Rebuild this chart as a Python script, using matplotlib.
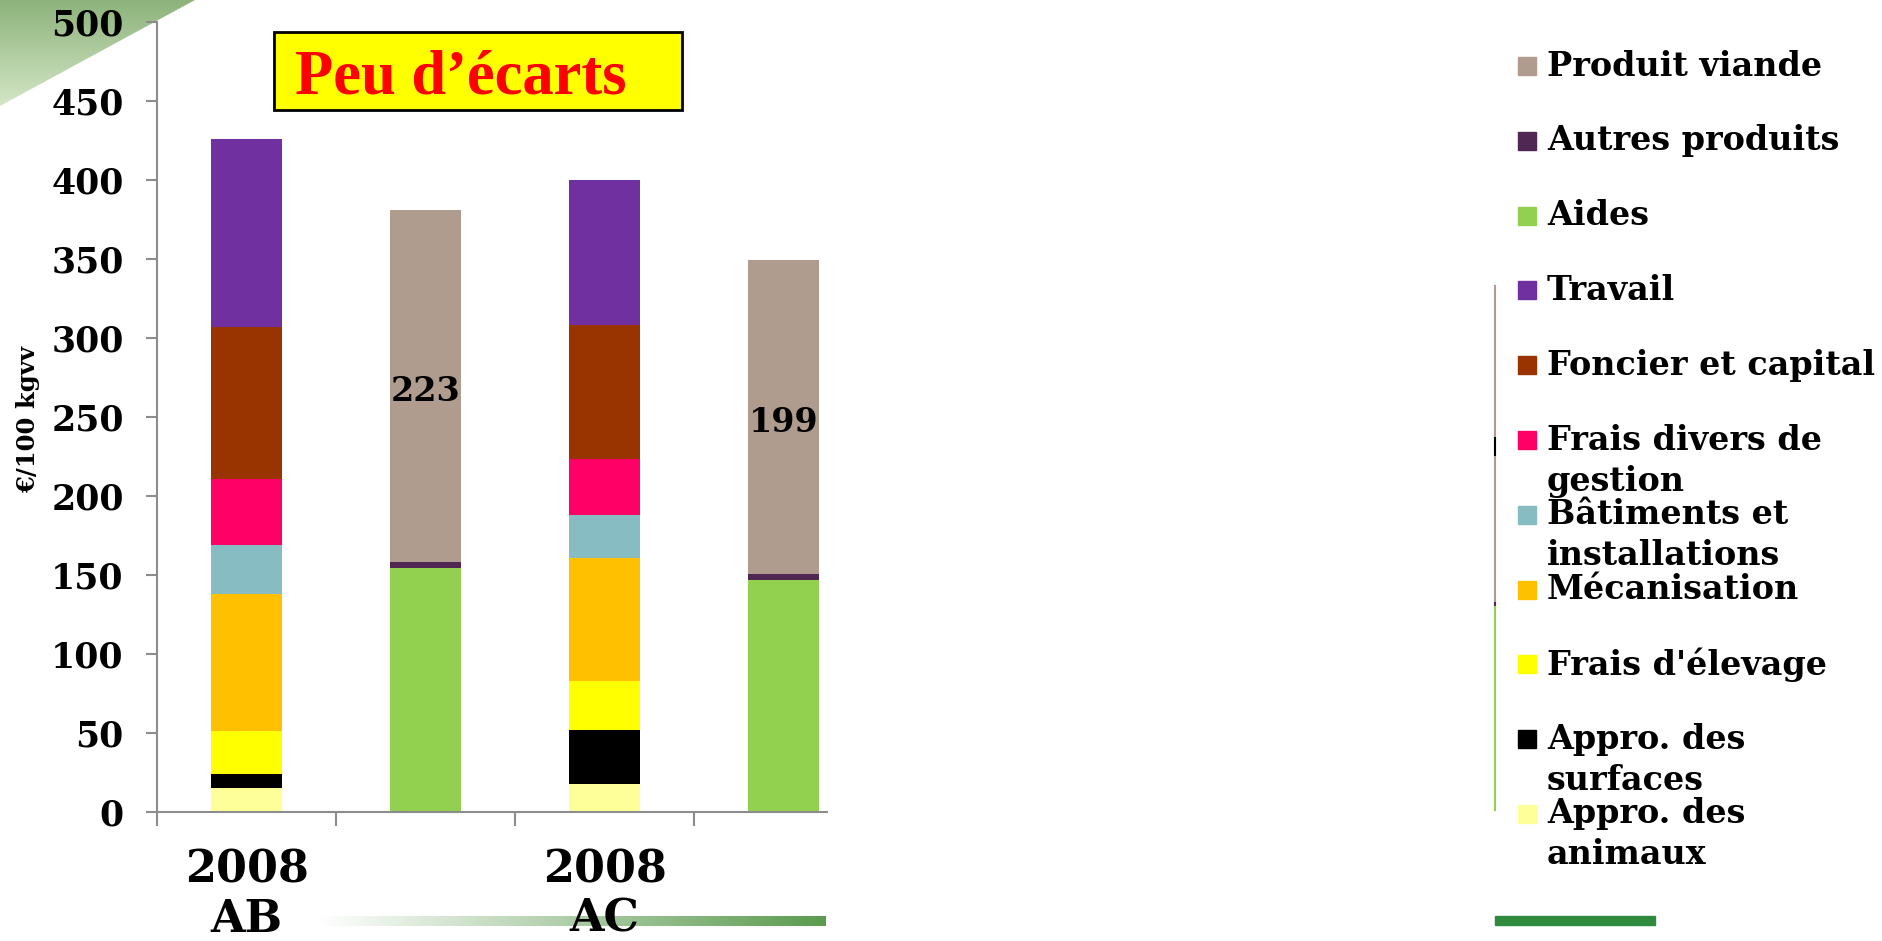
import matplotlib.pyplot as plt
import numpy as np
from matplotlib.patches import Rectangle, Polygon
from matplotlib.colors import LinearSegmentedColormap

# values, in €/100 kgvv
tick_labels = ['2008\nAB', '', '2008\nAC', '']

appro_animaux = [15, 0, 18, 0]
appro_surfaces = [9, 0, 34, 0]
frais_elevage = [27.5, 0, 31, 0]
mecanisation = [86.5, 0, 77.5, 0]
batiments = [31, 0, 27.5, 0]
frais_divers = [41.5, 0, 35.5, 0]
foncier = [96, 0, 84.5, 0]
travail = [119, 0, 91.5, 0]
aides = [0, 154.5, 0, 147]
autres_produits = [0, 3.5, 0, 3.5]
produit_viande = [0, 223, 0, 199]

# stacking order, bottom to top
series = [
    ('Appro. des\nanimaux', appro_animaux, '#FFFF99'),
    ('Appro. des\nsurfaces', appro_surfaces, '#000000'),
    ("Frais d'élevage", frais_elevage, '#FFFF00'),
    ('Mécanisation', mecanisation, '#FFC000'),
    ('Bâtiments et\ninstallations', batiments, '#86BCC2'),
    ('Frais divers de\ngestion', frais_divers, '#FF0066'),
    ('Foncier et capital', foncier, '#993300'),
    ('Travail', travail, '#7030A0'),
    ('Aides', aides, '#92D050'),
    ('Autres produits', autres_produits, '#4F2752'),
    ('Produit viande', produit_viande, '#B09B8F'),
]

SERIF = 'DejaVu Serif'
W, H = 1883, 941
fig = plt.figure(figsize=(W / 100, H / 100), dpi=100)

# decoration layer in pixel coordinates
deco = fig.add_axes([0, 0, 1, 1], zorder=0)
tri = LinearSegmentedColormap.from_list('tri', ['#8DB37B', '#D3E6C6'])
im = deco.imshow(np.linspace(0, 1, 100).reshape(-1, 1), cmap=tri, aspect='auto',
                 extent=(0, 195, 106, 0))
im.set_clip_path(Polygon([(0, 0), (195, 0), (0, 106)], transform=deco.transData))
band = LinearSegmentedColormap.from_list('band', ['#FFFFFF', '#5B9B4F'])
deco.imshow(np.linspace(0, 1, 256).reshape(1, -1), cmap=band, aspect='auto',
            extent=(318, 826, 926, 916))
deco.add_patch(Rectangle((1495, 916), 160, 9, color='#2E8B3E'))
deco.plot([1495, 1495], [286, 603], color='#B09B8F', lw=1.5)
deco.plot([1495, 1495], [438, 455], color='black', lw=1.5)
deco.plot([1495, 1495], [603, 607], color='#4F2752', lw=1.5)
deco.plot([1495, 1495], [607, 810], color='#92D050', lw=1.5)

# title box
deco.add_patch(Rectangle((274, 32), 408, 78, facecolor='#FFFF00', edgecolor='black', lw=2))
deco.text(295, 78, 'Peu d’écarts', color='#FF0000', fontsize=45, fontweight='bold',
          family='Liberation Serif', ha='left', va='center')

# legend, top to bottom
for i, (lab, vals, col) in enumerate(series[::-1]):
    yc = 66 + i * 74.8
    deco.add_patch(Rectangle((1518, yc - 9), 18, 18, color=col))
    for k, line in enumerate(lab.split('\n')):
        deco.text(1547, yc + k * 41, line, fontsize=24, fontweight='bold',
                  family=SERIF, ha='left', va='center')

deco.set_xlim(0, W)
deco.set_ylim(H, 0)
deco.axis('off')

# main chart
ax = fig.add_axes([157 / W, 129 / H, 670 / W, 790.4 / H], zorder=1)
ax.patch.set_alpha(0)
x = np.arange(len(tick_labels))
bottom = np.zeros(len(x))
for lab, vals, col in series:
    bc = ax.bar(x, vals, 0.4, bottom=bottom, color=col, linewidth=0)
    bottom += np.array(vals)
anns = ax.bar_label(bc, labels=[f'{v:g}' if v else '' for v in produit_viande],
                    label_type='center', fontsize=24, fontweight='bold', family=SERIF)
for a in anns:
    a.xyann = (0, -4)

ax.set_ylim(0, 500)
ax.set_xlim(-0.5, 3.243)
ax.set_yticks(range(0, 501, 50))
ax.tick_params(axis='y', direction='out', length=8, width=1.5, color='#8C8C8C', pad=16,
               labelsize=25)
for t in ax.get_yticklabels():
    t.set_fontweight('bold')
    t.set_family(SERIF)
ax.set_xticks([-0.5, 0.5, 1.5, 2.5], labels=[])
ax.set_xticks(x, labels=tick_labels, minor=True)
ax.tick_params(axis='x', which='major', direction='out', length=10, width=1.5, color='#8C8C8C')
ax.tick_params(axis='x', which='minor', length=0, pad=26)
for t in ax.get_xticklabels(minor=True):
    t.set_fontsize(32)
    t.set_fontweight('bold')
    t.set_family(SERIF)
    t.set_linespacing(1.2)

ax.set_ylabel('€/100 kgvv', fontsize=17.5, fontweight='bold', family=SERIF, va='center')
ax.yaxis.set_label_coords(-0.1925, 0.496)

for s in ['top', 'right']:
    ax.spines[s].set_visible(False)
for s in ['left', 'bottom']:
    ax.spines[s].set_color('#8C8C8C')
    ax.spines[s].set_linewidth(1.5)

fig.savefig('out.png', dpi=100)
